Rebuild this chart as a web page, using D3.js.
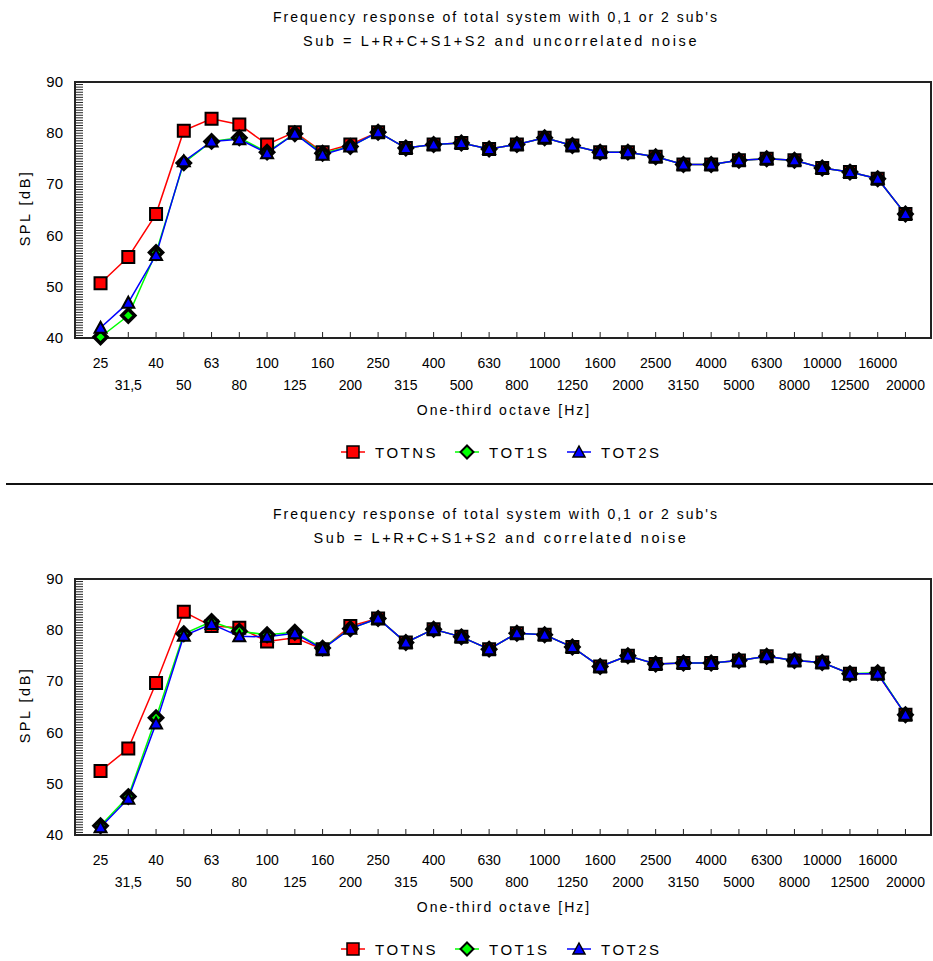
<!DOCTYPE html>
<html>
<head>
<meta charset="utf-8">
<script src="https://cdnjs.cloudflare.com/ajax/libs/d3/7.8.5/d3.min.js"></script>
<style>
  body { margin: 0; background: #fff; }
  svg text { font-family: "Liberation Sans", Arial, sans-serif; fill: #000; }
</style>
</head>
<body>
<div id="chart"></div>
<script>
// one-third octave bands
var bands = ["25","31,5","40","50","63","80","100","125","160","200","250","315","400","500","630",
             "800","1000","1250","1600","2000","2500","3150","4000","5000","6300","8000","10000","12500","16000","20000"];

// uncorrelated noise (top chart)
var totnsUncorr = [50.7,55.8,64.2,80.5,82.8,81.7,77.8,80.2,76.3,77.8,80.2,77.1,77.8,78.1,76.9,
                   77.8,79.1,77.6,76.3,76.3,75.4,73.9,73.9,74.7,75.0,74.7,73.2,72.4,71.1,64.2];
var tot1sUncorr = [40.2,44.4,56.7,74.2,78.4,79.1,76.3,79.9,76.1,77.4,80.2,77.1,77.8,78.1,76.9,
                   77.8,79.1,77.6,76.3,76.3,75.4,73.9,73.9,74.7,75.0,74.7,73.2,72.4,71.1,64.2];
var tot2sUncorr = [42.0,46.9,56.2,74.5,78.4,78.8,76.1,79.9,75.8,77.4,80.2,77.1,77.8,78.1,76.9,
                   77.8,79.1,77.6,76.3,76.3,75.4,73.9,73.9,74.7,75.0,74.7,73.2,72.4,71.1,64.2];

// correlated noise (bottom chart)
var totnsCorr = [52.5,56.9,69.7,83.6,80.8,80.5,77.8,78.5,76.3,80.8,82.3,77.6,80.2,78.7,76.3,
                 79.4,79.1,76.7,72.9,75.0,73.4,73.6,73.6,74.1,74.9,74.1,73.7,71.5,71.5,63.5];
var tot1sCorr = [41.8,47.5,62.9,79.3,81.7,79.8,79.1,79.6,76.5,80.3,82.3,77.6,80.2,78.7,76.3,
                 79.4,79.1,76.7,72.9,75.0,73.4,73.6,73.6,74.1,74.9,74.1,73.7,71.5,71.7,63.5];
var tot2sCorr = [41.5,47.1,61.8,78.9,81.2,78.8,78.7,79.4,76.3,80.3,82.3,77.6,80.2,78.7,76.3,
                 79.4,79.1,76.7,72.9,75.0,73.4,73.6,73.6,74.1,74.9,74.1,73.7,71.5,71.5,63.5];

var seriesNames = ["TOTNS","TOT1S","TOT2S"];
var seriesColors = ["#ff0000","#00ff00","#0000ff"];
var titleLine1 = "Frequency response of total system with 0,1 or 2 sub's";

var width = 933, height = 961;

var svg = d3.select("#chart").append("svg")
    .attr("width", width)
    .attr("height", height);

// marker shapes: square, diamond, triangle
function markerPath(kind) {
    if (kind == 0) return "M-6,-6H6V6H-6Z";
    if (kind == 1) return "M0,-6.5L6.5,0L0,6.5L-6.5,0Z";
    return "M0,-6L6,5L-6,5Z";
}
var markerStroke = [2, 3.5, 2];

function drawPanel(oy, subtitle, values) {
    var g = svg.append("g").attr("transform", "translate(0," + oy + ")");
    var left = 75, right = 931, top = 82, bottom = 338;

    var x = d3.scalePoint().domain(bands).range([left, right]).padding(0.92);
    var y = d3.scaleLinear().domain([40, 90]).range([bottom, top]);

    // titles
    g.append("text").attr("x", 496).attr("y", 22).attr("text-anchor", "middle")
        .style("font-size", "14px").style("letter-spacing", "2px").text(titleLine1);
    g.append("text").attr("x", 501).attr("y", 46).attr("text-anchor", "middle")
        .style("font-size", "14.5px").style("letter-spacing", "2.6px").text(subtitle);

    // minor y ticks every 0.5 dB
    g.selectAll(".ymin").data(d3.range(40, 90.01, 0.5)).enter().append("line")
        .attr("x1", left).attr("x2", left + 8)
        .attr("y1", function(d){ return y(d); }).attr("y2", function(d){ return y(d); })
        .attr("stroke", "#222").attr("stroke-width", 1);

    // y labels
    g.selectAll(".ylab").data(y.ticks(5)).enter().append("text")
        .attr("x", 63).attr("y", function(d){ return y(d) + 5; })
        .attr("text-anchor", "end").style("font-size", "15px")
        .text(function(d){ return d; });

    g.append("text")
        .attr("transform", "translate(30," + ((top + bottom) / 2 - 2) + ") rotate(-90)")
        .attr("text-anchor", "middle").style("font-size", "14.5px").style("letter-spacing", "2.5px")
        .text("SPL [dB]");

    // x ticks and two-row labels
    g.selectAll(".xt").data(bands).enter().append("line")
        .attr("x1", function(d){ return x(d); }).attr("x2", function(d){ return x(d); })
        .attr("y1", bottom).attr("y2", bottom - 6)
        .attr("stroke", "#222").attr("stroke-width", 1);

    g.selectAll(".xlab").data(bands).enter().append("text")
        .attr("x", function(d){ return x(d); })
        .attr("y", function(d, i){ return i % 2 == 0 ? 368 : 390; })
        .attr("text-anchor", "middle").style("font-size", "14px")
        .text(function(d){ return d; });

    g.append("text").attr("x", 504).attr("y", 415).attr("text-anchor", "middle")
        .style("font-size", "14px").style("letter-spacing", "2px")
        .text("One-third octave [Hz]");

    // frame
    g.append("rect").attr("x", left).attr("y", top)
        .attr("width", right - left).attr("height", bottom - top)
        .attr("fill", "none").attr("stroke", "#222").attr("stroke-width", 2);

    var line = d3.line()
        .x(function(d, i){ return x(bands[i]); })
        .y(function(d){ return y(d); });

    values.forEach(function(vals, s) {
        g.append("path").datum(vals).attr("d", line)
            .attr("fill", "none").attr("stroke", seriesColors[s]).attr("stroke-width", 1.5);
    });

    values.forEach(function(vals, s) {
        g.selectAll(".m" + s).data(vals).enter().append("path")
            .attr("transform", function(d, i){ return "translate(" + x(bands[i]) + "," + y(d) + ")"; })
            .attr("d", markerPath(s))
            .attr("fill", seriesColors[s]).attr("stroke", "#000")
            .attr("stroke-width", markerStroke[s]);
    });

    // legend
    var legX = [353, 467, 579];
    seriesNames.forEach(function(name, s) {
        var lg = g.append("g").attr("transform", "translate(" + legX[s] + ",452)");
        lg.append("line").attr("x1", -12).attr("x2", 12)
            .attr("stroke", seriesColors[s]).attr("stroke-width", 1.5);
        lg.append("path").attr("d", markerPath(s))
            .attr("fill", seriesColors[s]).attr("stroke", "#000").attr("stroke-width", s == 1 ? 2 : 1.5);
        lg.append("text").attr("x", 22).attr("y", 6)
            .style("font-size", "15px").style("letter-spacing", "2.5px").text(name);
    });
}

drawPanel(0, "Sub = L+R+C+S1+S2 and uncorrelated noise", [totnsUncorr, tot1sUncorr, tot2sUncorr]);

svg.append("line").attr("x1", 6).attr("x2", 933).attr("y1", 484).attr("y2", 484)
    .attr("stroke", "#111").attr("stroke-width", 2);

drawPanel(497, "Sub = L+R+C+S1+S2 and correlated noise", [totnsCorr, tot1sCorr, tot2sCorr]);
</script>
</body>
</html>
